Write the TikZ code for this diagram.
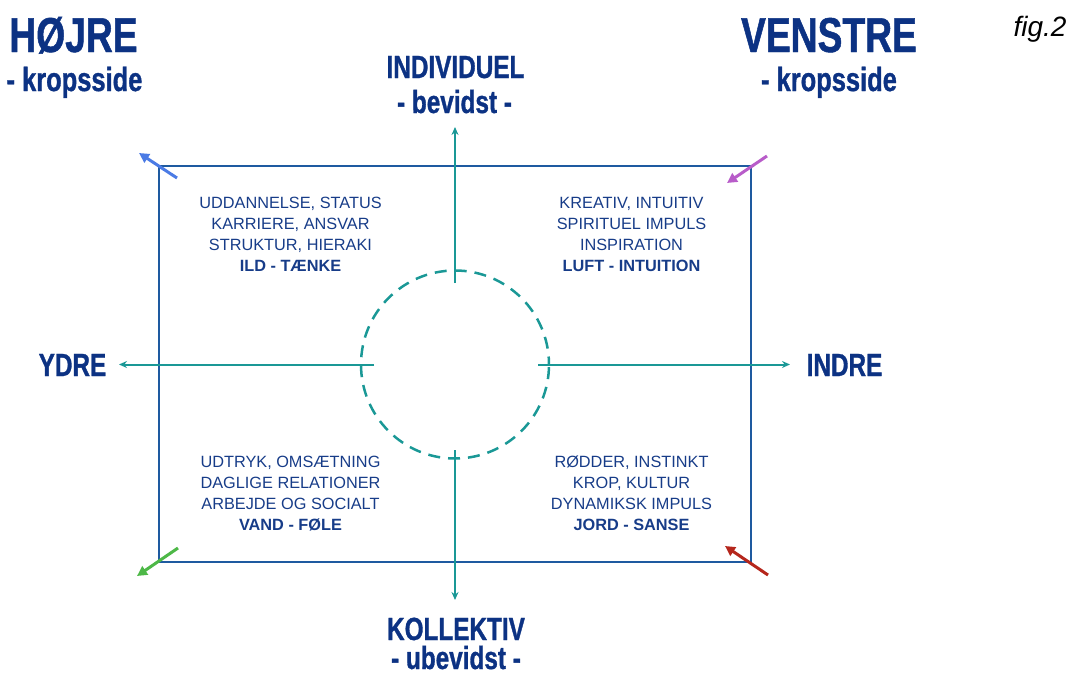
\documentclass[tikz,border=0pt]{standalone}
\usepackage{fontspec}
\setmainfont{Liberation Sans}
\newfontfamily\condb{Liberation Sans Bold}[FakeStretch=0.76,FakeBold=1]
\usetikzlibrary{arrows.meta}
\definecolor{navy}{HTML}{0C3283}
\definecolor{qtext}{HTML}{173C88}
\definecolor{frameblue}{HTML}{1E5AA0}
\definecolor{teal}{HTML}{1A9896}
\definecolor{cblue}{HTML}{4B7BE5}
\definecolor{cmag}{HTML}{B85CC9}
\definecolor{cgreen}{HTML}{4DB847}
\definecolor{cred}{HTML}{B5261C}
\tikzset{
  bighead/.style={font=\condb\fontsize{49}{49}\selectfont, text=navy, inner sep=0pt, anchor=base},
  subhead/.style={font=\condb\fontsize{33.5}{33.5}\selectfont, text=navy, inner sep=0pt, anchor=base},
  axhead/.style={font=\condb\fontsize{32}{32}\selectfont, text=navy, inner sep=0pt, anchor=base, text height=24pt, text depth=0pt},
  quad/.style={font=\fontsize{16.3}{20.9}\selectfont, text=qtext, align=center, inner sep=0pt},
  axis/.style={draw=teal, line width=2pt, -{Stealth[length=8pt,width=7pt]}},
  corner/.style={line width=3pt, -{Triangle[length=10pt,width=10pt]}}
}
\begin{document}
\begin{tikzpicture}[x=1pt,y=-1pt]
\useasboundingbox (0,0) rectangle (1072,675);
% frame
\node[draw=frameblue, line width=2.5pt, minimum width=592pt, minimum height=396pt, inner sep=0pt] (frame) at (455,364) {};
% dashed circle
\node[draw=teal, line width=2.5pt, circle, minimum size=188pt, inner sep=0pt, dash pattern=on 12pt off 8pt, dash phase=4pt] (circ) at (455,364.5) {};
% axis coordinates
\coordinate (tS) at (455,283);
\coordinate (tE) at (455,127);
\coordinate (bS) at (455,450);
\coordinate (bE) at (455,600);
\coordinate (lS) at (374,364.5);
\coordinate (lE) at (119,364.5);
\coordinate (rS) at (538,364.5);
\coordinate (rE) at (790,364.5);
\draw[axis] (tS) -- (tE);
\draw[axis] (bS) -- (bE);
\draw[axis] (lS) -- (lE);
\draw[axis] (rS) -- (rE);
% corner arrows
\coordinate (c1s) at (177,178); \coordinate (c1e) at (139,153);
\coordinate (c2s) at (767,156); \coordinate (c2e) at (727,183);
\coordinate (c3s) at (178,548); \coordinate (c3e) at (137,576);
\coordinate (c4s) at (768,575); \coordinate (c4e) at (725,546);
\draw[corner, cblue] (c1s) -- (c1e);
\draw[corner, cmag] (c2s) -- (c2e);
\draw[corner, cgreen] (c3s) -- (c3e);
\draw[corner, cred] (c4s) -- (c4e);
% headings
\node[bighead] (hojre) at (73.5,52) {HØJRE};
\node[subhead] (hojresub) at (74.5,91) {- kropsside};
\node[bighead] (venstre) at (829,52) {VENSTRE};
\node[subhead] (venstresub) at (829,91) {- kropsside};
\node[font=\itshape\fontsize{28}{28}\selectfont, text=black, inner sep=0pt, anchor=base] (fig) at (1040,36) {fig.2};
\node[axhead] (indiv) at (455.5,78) {INDIVIDUEL};
\node[axhead] (bevidst) at (454.5,113) {- bevidst -};
\node[axhead] (kollektiv) at (456,640) {KOLLEKTIV};
\node[axhead] (ubevidst) at (456,669) {- ubevidst -};
\node[axhead] (ydre) at (72.5,376) {YDRE};
\node[axhead] (indre) at (844.5,376) {INDRE};
% quadrant texts
\node[quad] (q1) at (290.5,234.5) {UDDANNELSE, STATUS\\KARRIERE, ANSVAR\\STRUKTUR, HIERAKI\\\textbf{ILD - TÆNKE}};
\node[quad] (q2) at (631.5,234.5) {KREATIV, INTUITIV\\SPIRITUEL IMPULS\\INSPIRATION\\\textbf{LUFT - INTUITION}};
\node[quad] (q3) at (290.5,493.5) {UDTRYK, OMSÆTNING\\DAGLIGE RELATIONER\\ARBEJDE OG SOCIALT\\\textbf{VAND - FØLE}};
\node[quad] (q4) at (631.5,493.5) {RØDDER, INSTINKT\\KROP, KULTUR\\DYNAMIKSK IMPULS\\\textbf{JORD - SANSE}};
\end{tikzpicture}
\end{document}
